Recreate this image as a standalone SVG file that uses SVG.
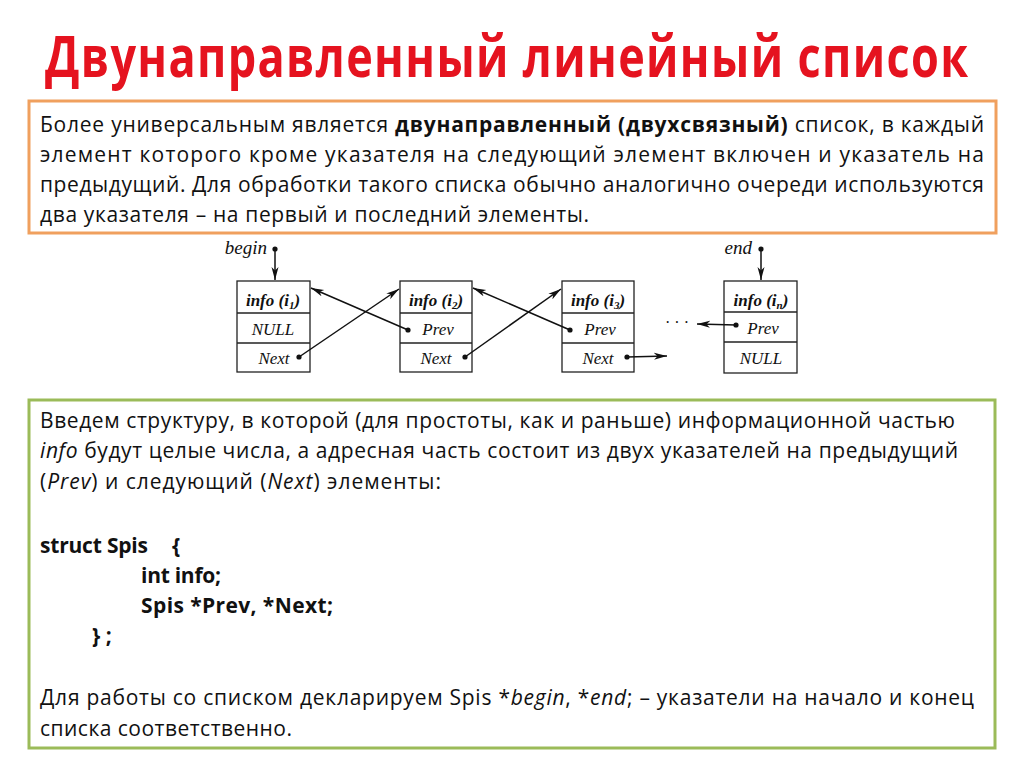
<svg xmlns="http://www.w3.org/2000/svg" width="1024" height="768" viewBox="0 0 1024 768">
<style>
.title{font-family:"Open Sans","Liberation Sans",sans-serif;font-weight:bold;font-size:45px;fill:#e5131f}
.body{font-family:"Open Sans","Liberation Sans",sans-serif;font-size:21px;fill:#111}
.b{font-weight:bold}
.i{font-style:italic}
.cell{fill:#fff;stroke:#222;stroke-width:1.3}
.div{stroke:#222;stroke-width:1.3}
.lbl{font-family:"Liberation Serif","DejaVu Serif",serif;font-style:italic;font-size:17px;fill:#111;text-anchor:middle}
.lblb{font-weight:bold}
.ptr{font-family:"Liberation Serif","DejaVu Serif",serif;font-style:italic;font-size:19px;fill:#111}
.conn{stroke:#111;stroke-width:1.5;fill:none;marker-end:url(#ah)}
.dot{fill:#111}
</style>
<defs>
<marker id="ah" markerUnits="userSpaceOnUse" markerWidth="14" markerHeight="8" refX="13" refY="4" orient="auto">
<path d="M0,0.5 L13,4 L0,7.5 L3.5,4 Z" fill="#111"/>
</marker>
</defs>
<rect width="1024" height="768" fill="#fff"/>
<text class="title" transform="translate(45,77) scale(1,1.28)" x="0" y="0" textLength="923" lengthAdjust="spacing">Двунаправленный линейный список</text>

<g id="intro">
<rect x="29" y="101" width="967" height="132" fill="#fff" stroke="#f0a05e" stroke-width="3"/>
<text class="body" x="40" y="132" textLength="944" lengthAdjust="spacing">Более универсальным является <tspan class="b">двунаправленный (двухсвязный)</tspan> список, в каждый</text>
<text class="body" x="40" y="162" textLength="944" lengthAdjust="spacing">элемент которого кроме указателя на следующий элемент включен и указатель на</text>
<text class="body" x="40" y="192" textLength="944" lengthAdjust="spacing">предыдущий. Для обработки такого списка обычно аналогично очереди используются</text>
<text class="body" x="40" y="222" textLength="549" lengthAdjust="spacing">два указателя – на первый и последний элементы.</text>
</g>

<g id="node1">
<rect class="cell" x="237" y="281" width="73" height="91"/>
<line class="div" x1="237" y1="313" x2="310" y2="313"/>
<line class="div" x1="237" y1="343" x2="310" y2="343"/>
<text class="lbl lblb" x="273" y="306">info (<tspan>i</tspan><tspan font-size="11" dy="3">1</tspan><tspan dy="-3">)</tspan></text>
<text class="lbl" x="273" y="335">NULL</text>
<text class="lbl" x="274" y="364">Next</text>
<circle class="dot" cx="299" cy="357" r="2.6"/>
</g>
<g id="node2">
<rect class="cell" x="400" y="281" width="72" height="91"/>
<line class="div" x1="400" y1="313" x2="472" y2="313"/>
<line class="div" x1="400" y1="343" x2="472" y2="343"/>
<text class="lbl lblb" x="436" y="306">info (<tspan>i</tspan><tspan font-size="11" dy="3">2</tspan><tspan dy="-3">)</tspan></text>
<text class="lbl" x="438" y="335">Prev</text>
<circle class="dot" cx="408" cy="330" r="2.6"/>
<text class="lbl" x="436" y="364">Next</text>
<circle class="dot" cx="465" cy="357" r="2.6"/>
</g>
<g id="node3">
<rect class="cell" x="562" y="281" width="72" height="91"/>
<line class="div" x1="562" y1="313" x2="634" y2="313"/>
<line class="div" x1="562" y1="343" x2="634" y2="343"/>
<text class="lbl lblb" x="598" y="306">info (<tspan>i</tspan><tspan font-size="11" dy="3">3</tspan><tspan dy="-3">)</tspan></text>
<text class="lbl" x="600" y="335">Prev</text>
<circle class="dot" cx="570" cy="330" r="2.6"/>
<text class="lbl" x="598" y="364">Next</text>
<circle class="dot" cx="627" cy="357" r="2.6"/>
</g>
<g id="node4">
<rect class="cell" x="724" y="281" width="73" height="92"/>
<line class="div" x1="724" y1="312" x2="797" y2="312"/>
<line class="div" x1="724" y1="342" x2="797" y2="342"/>
<text class="lbl lblb" x="761" y="306">info (<tspan>i</tspan><tspan font-size="11" dy="3">n</tspan><tspan dy="-3">)</tspan></text>
<text class="lbl" x="763" y="334">Prev</text>
<circle class="dot" cx="736" cy="325" r="2.6"/>
<text class="lbl" x="761" y="364">NULL</text>
</g>
<g id="begin">
<text class="ptr" x="267" y="254" text-anchor="end">begin</text>
<circle class="dot" cx="275" cy="249" r="2.6"/>
</g>
<g id="end">
<text class="ptr" x="752" y="254" text-anchor="end">end</text>
<circle class="dot" cx="761" cy="249" r="2.6"/>
</g>
<g id="ellipsis">
<text x="677" y="328" font-family="Liberation Serif,serif" font-size="16" fill="#111" text-anchor="middle">· · ·</text>
</g>

<g id="connectors">
<line class="conn" x1="275" y1="249" x2="275" y2="280"/>
<line class="conn" x1="761" y1="249" x2="761" y2="280"/>
<line class="conn" x1="299" y1="357" x2="399" y2="289"/>
<line class="conn" x1="408" y1="330" x2="311" y2="288"/>
<line class="conn" x1="465" y1="357" x2="561" y2="289"/>
<line class="conn" x1="570" y1="330" x2="473" y2="288"/>
<line class="conn" x1="627" y1="357" x2="667" y2="356"/>
<line class="conn" x1="736" y1="325" x2="697" y2="324"/>
</g>

<g id="struct">
<rect x="29" y="400" width="966" height="348" fill="#fff" stroke="#9bbb59" stroke-width="3"/>
<text class="body" x="40" y="428" textLength="915" lengthAdjust="spacing">Введем структуру, в которой (для простоты, как и раньше) информационной частью</text>
<text class="body" x="40" y="458" textLength="918" lengthAdjust="spacing"><tspan class="i">info</tspan> будут целые числа, а адресная часть состоит из двух указателей на предыдущий</text>
<text class="body" x="40" y="489" textLength="401" lengthAdjust="spacing">(<tspan class="i">Prev</tspan>) и следующий (<tspan class="i">Next</tspan>) элементы:</text>
<text class="body b" x="40" y="553" textLength="108" lengthAdjust="spacing">struct Spis</text>
<text class="body b" x="172" y="553">{</text>
<text class="body b" x="141" y="583" textLength="80" lengthAdjust="spacing">int info;</text>
<text class="body b" x="141" y="613" textLength="192" lengthAdjust="spacing">Spis  *Prev, *Next;</text>
<text class="body b" x="92" y="643">} ;</text>
<text class="body" x="40" y="705" textLength="934" lengthAdjust="spacing">Для работы со списком декларируем Spis *<tspan class="i">begin</tspan>, *<tspan class="i">end</tspan>; – указатели на начало и конец</text>
<text class="body" x="40" y="736" textLength="252" lengthAdjust="spacing">списка соответственно.</text>
</g>
</svg>
